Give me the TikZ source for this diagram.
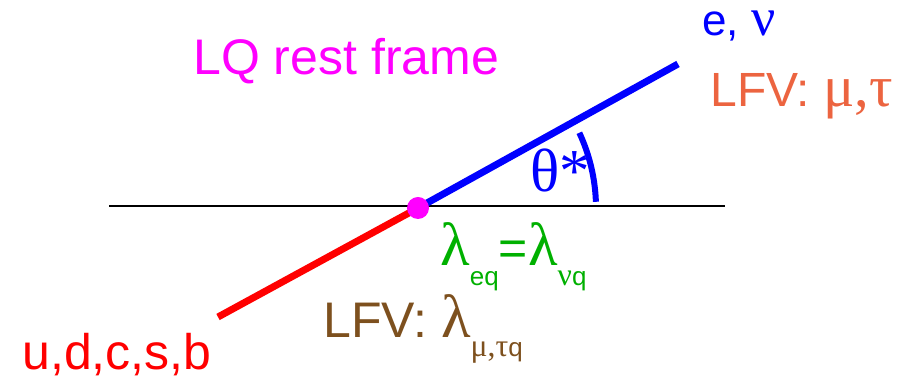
\documentclass[tikz,border=0pt]{standalone}
\usepackage{fontspec}
\setmainfont{Liberation Sans}
\newfontfamily\grk[Scale=1.22]{Liberation Serif}
\usetikzlibrary{positioning}
\definecolor{lqmagenta}{RGB}{255,0,255}
\definecolor{lfvorange}{RGB}{236,100,64}
\definecolor{eqgreen}{RGB}{0,176,0}
\definecolor{lfvbrown}{RGB}{125,80,30}
\newcommand{\lsub}[2][-10pt]{\raisebox{#1}{\fontsize{13}{15}\selectfont #2}}

\begin{document}
\begin{tikzpicture}[
  x=0.5pt, y=0.5pt,
  lbl/.style={anchor=base west, inner sep=0pt, font=\fontsize{25}{30}\selectfont},
  leg/.style={line width=3.5pt},
  axis/.style={draw=black, line width=0.6pt}
]
  \useasboundingbox (0,0) rectangle (900,379);

  \coordinate (v) at (418,171);
  \coordinate (axl) at (109,173);
  \coordinate (axr) at (725,173);
  \coordinate (lep) at (678,315);
  \coordinate (qrk) at (218,62);

  \draw[axis] (axl) -- (axr);
  \draw[leg, blue] (v) -- (lep);
  \draw[leg, red] (v) -- (qrk);
  \draw[blue, line width=3pt] ([shift={(2:178)}]v) arc[start angle=2, end angle=25, radius=178];
  \node[circle, fill=lqmagenta, minimum size=11pt, inner sep=0pt] (lq) at (v) {};

  \node[lbl, text=lqmagenta] (frame) at (193,304) {LQ rest frame};
  \node[lbl, text=blue, font=\fontsize{22}{26}\selectfont, text height=12pt] (lepname) at (702,343) {e, {\grk ν}};
  \node[lbl, text=lfvorange, font=\fontsize{24}{28}\selectfont] (leplfv) at (710,272) {LFV: {\grk μ,τ}};
  \node[lbl, text=blue] (theta) at (530,187) {\grk θ*};
  \node[lbl, text=eqgreen] (coup) at (440,113) {{\grk λ}\lsub{eq}={\grk λ}\lsub{{\grk ν}q}};
  \node[lbl, text=lfvbrown] (coupfv) at (323,41) {LFV: {\grk λ}\lsub[-9.5pt]{{\grk μ,τ}q}};
  \node[lbl, text=red] (quarks) at (22,9) {u,d,c,s,b};
\end{tikzpicture}
\end{document}
